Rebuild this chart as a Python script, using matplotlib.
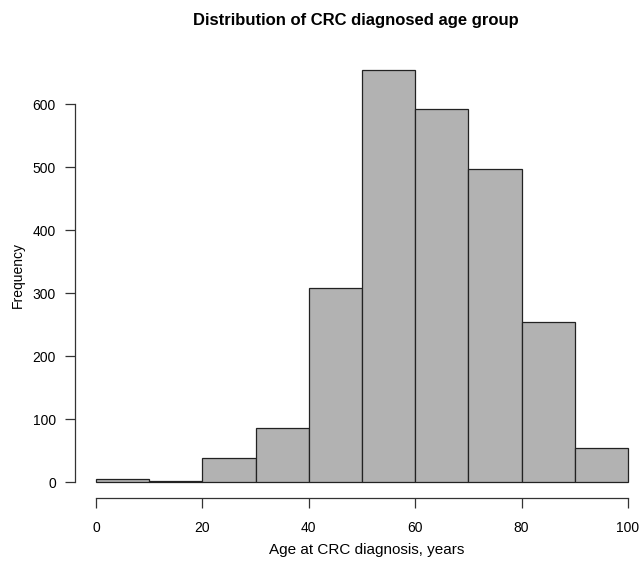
import matplotlib
matplotlib.use("Agg")
import matplotlib.pyplot as plt

bin_edges = [0, 10, 20, 30, 40, 50, 60, 70, 80, 90, 100]
counts = [4, 2, 38, 86, 308, 654, 592, 498, 254, 54]
x_ticks = [0, 20, 40, 60, 80, 100]
y_ticks = [0, 100, 200, 300, 400, 500, 600]

plt.rcParams['font.family'] = ['Liberation Sans', 'DejaVu Sans']

W, H = 640, 568
fig = plt.figure(figsize=(W / 100, H / 100), dpi=100)
ax = fig.add_axes([0.1167, 0.1224, 0.8977, 0.7825])

lefts = bin_edges[:-1]
widths = [b - a for a, b in zip(bin_edges[:-1], bin_edges[1:])]
ax.bar(lefts, counts, width=widths, align='edge', color='#b2b2b2',
       edgecolor='#222222', linewidth=0.9)

ymax = max(counts)
ax.set_xlim(-4, 104)
ax.set_ylim(-0.04 * ymax, 1.04 * ymax)

for s in ['top', 'right']:
    ax.spines[s].set_visible(False)
ax.spines['left'].set_bounds(0, 600)
ax.spines['bottom'].set_bounds(0, 100)
for s in ['left', 'bottom']:
    ax.spines[s].set_color('#333333')
    ax.spines[s].set_linewidth(0.9)

ax.set_xticks(x_ticks)
ax.set_yticks(y_ticks)
ax.tick_params(axis='both', length=7, width=0.9, color='#333333',
               labelsize=10)
ax.tick_params(axis='x', pad=9)
ax.tick_params(axis='y', pad=6.5)

fig.text(367 / W, 1 - 550 / H, 'Age at CRC diagnosis, years',
         ha='center', va='center', fontsize=11)
fig.text(18 / W, 1 - 275 / H, 'Frequency', rotation=90,
         ha='center', va='center', fontsize=10)
fig.text(356 / W, 1 - 20 / H, 'Distribution of CRC diagnosed age group',
         ha='center', va='center', fontsize=12, fontweight='bold')

fig.savefig('out.png', dpi=100)
